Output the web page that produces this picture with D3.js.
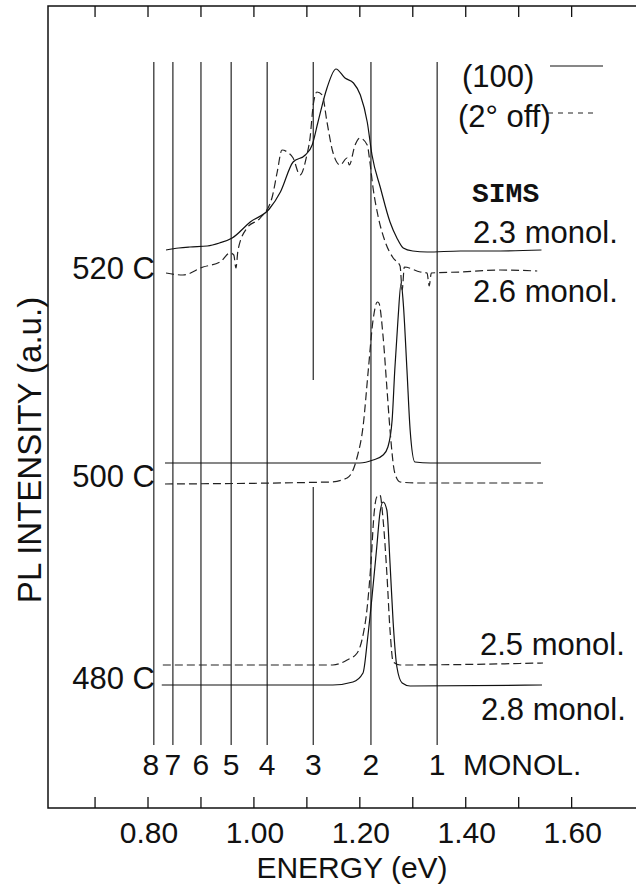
<!DOCTYPE html>
<html><head><meta charset="utf-8">
<script src="https://cdn.jsdelivr.net/npm/d3@7"></script>
<style>
body{margin:0;background:#fff}
svg{display:block}
text{font-family:"Liberation Sans",Arial,Helvetica,sans-serif;fill:#111}
</style>
</head><body>
<svg id="chart" width="636" height="886"></svg>
<script>
// ---------- data ----------
const energyTicks = [0.7,0.8,0.9,1.0,1.1,1.2,1.3,1.4,1.5,1.6];
const tickLabelValues = [0.8,1.0,1.2,1.4,1.6];
const tickLabels = ["0.80","1.00","1.20","1.40","1.60"];

const monolayerLabels = ["8","7","6","5","4","3","2","1"];
const monolayerEnergies = [0.811,0.847,0.900,0.957,1.025,1.112,1.221,1.346];
const monolayerSpan = [63, 746];           // a.u. extent of the marker lines
const monolayerGap3 = [321, 428];          // gap in line "3"

// [energy eV, PL intensity a.u.]
const pl520_100 = [[0.834,558],[0.858,560],[0.879,561],[0.912,562],[0.935,565],[0.959,570],[0.993,586],[1.029,599],[1.050,616],[1.074,646],[1.097,653],[1.110,663],[1.121,686],[1.138,720],[1.155,739],[1.172,730],[1.188,725],[1.201,713],[1.214,686],[1.223,653],[1.239,620],[1.257,586],[1.270,570],[1.282,560],[1.300,557],[1.327,556],[1.390,557],[1.450,557],[1.543,558]];
const pl520_off = [[0.834,535],[0.866,533],[0.904,541],[0.936,546],[0.955,555],[0.962,553],[0.966,540],[0.970,558],[0.987,580],[1.012,590],[1.034,610],[1.044,636],[1.053,658],[1.063,656],[1.074,650],[1.087,633],[1.100,653],[1.106,670],[1.112,703],[1.119,716],[1.129,713],[1.138,686],[1.149,656],[1.163,643],[1.176,650],[1.180,643],[1.191,663],[1.200,670],[1.214,663],[1.219,646],[1.225,620],[1.234,593],[1.248,566],[1.263,550],[1.276,542],[1.280,518],[1.284,541],[1.314,536],[1.327,535],[1.331,522],[1.335,535],[1.389,536],[1.465,538],[1.535,537]];
const pl500_100 = [[0.832,345],[1.163,345],[1.200,345],[1.225,348],[1.244,353],[1.253,361],[1.261,388],[1.266,438],[1.272,488],[1.278,525],[1.282,505],[1.289,438],[1.295,378],[1.304,346],[1.333,345],[1.542,345]];
const pl500_off = [[0.832,324],[1.144,326],[1.176,330],[1.195,351],[1.206,381],[1.216,438],[1.225,488],[1.233,506],[1.236,505],[1.244,471],[1.251,421],[1.257,378],[1.266,335],[1.276,326],[1.308,325],[1.546,325]];
const pl480_100 = [[0.826,123],[1.149,123],[1.187,126],[1.206,135],[1.215,171],[1.223,211],[1.232,261],[1.238,295],[1.244,306],[1.251,298],[1.257,245],[1.263,185],[1.270,141],[1.280,125],[1.295,122],[1.544,123]];
const pl480_off = [[0.828,143],[1.149,143],[1.176,148],[1.195,155],[1.204,168],[1.214,201],[1.221,245],[1.227,295],[1.232,311],[1.238,313],[1.244,288],[1.251,235],[1.257,178],[1.263,146],[1.276,143],[1.546,145]];

const seriesNames = ["(100)","(2° off)"];
const temperatures = ["520 C","500 C","480 C"];
const simsSolid = ["2.3 monol.","","2.8 monol."];
const simsDashed = ["2.6 monol.","","2.5 monol."];

// ---------- layout ----------
const svg = d3.select("#chart");
const frame = {left:48, top:6, bottom:808, right:640};
const x = d3.scaleLinear().domain([0.6,1.7]).range([42.1,624.6]);
const y = d3.scaleLinear().domain([0,800]).range([808,8]);
const FS = 30;

// frame
svg.append("path")
  .attr("d",`M${frame.right},${frame.top}H${frame.left}V${frame.bottom}H${frame.right}`)
  .attr("fill","none").attr("stroke","#111").attr("stroke-width",1.5);

// ticks (top pointing down, bottom pointing up)
const tickLen = 11;
svg.append("g").selectAll("line").data(energyTicks).join("line")
  .attr("x1",d=>x(d)).attr("x2",d=>x(d))
  .attr("y1",frame.top).attr("y2",frame.top+tickLen)
  .attr("stroke","#111").attr("stroke-width",1.3);
svg.append("g").selectAll("line").data(energyTicks).join("line")
  .attr("x1",d=>x(d)).attr("x2",d=>x(d))
  .attr("y1",frame.bottom).attr("y2",frame.bottom-tickLen)
  .attr("stroke","#111").attr("stroke-width",1.3);

// tick labels
svg.append("g").selectAll("text").data(tickLabelValues).join("text")
  .attr("x",d=>x(d)+1).attr("y",843).attr("text-anchor","middle")
  .attr("font-size",FS).text((d,i)=>tickLabels[i]);

svg.append("text").attr("x",352).attr("y",878).attr("text-anchor","middle")
  .attr("font-size",FS).text("ENERGY (eV)");

svg.append("text").attr("transform","translate(41,450) rotate(-90)")
  .attr("text-anchor","middle").attr("font-size",33).text("PL INTENSITY (a.u.)");

// monolayer marker lines
const mg = svg.append("g").attr("stroke","#111").attr("stroke-width",1.1);
monolayerEnergies.forEach((e,i)=>{
  if(monolayerLabels[i]==="3"){
    mg.append("line").attr("x1",x(e)).attr("x2",x(e)).attr("y1",y(monolayerSpan[1])).attr("y2",y(monolayerGap3[1]));
    mg.append("line").attr("x1",x(e)).attr("x2",x(e)).attr("y1",y(monolayerGap3[0])).attr("y2",y(monolayerSpan[0]));
  } else {
    mg.append("line").attr("x1",x(e)).attr("x2",x(e)).attr("y1",y(monolayerSpan[1])).attr("y2",y(monolayerSpan[0]));
  }
});
svg.append("g").selectAll("text").data(monolayerEnergies).join("text")
  .attr("x",(d,i)=>x(d)-(i===0?3:0)).attr("y",775).attr("text-anchor","middle")
  .attr("font-size",FS).text((d,i)=>monolayerLabels[i]);
svg.append("text").attr("x",463).attr("y",775).attr("font-size",FS).text("MONOL.");

// curves
const line = d3.line().x(d=>x(d[0])).y(d=>y(d[1])).curve(d3.curveMonotoneX);
const solidStyle = s=>s.attr("fill","none").attr("stroke","#111").attr("stroke-width",1.2);
const dashStyle = s=>s.attr("fill","none").attr("stroke","#222").attr("stroke-width",1.2).attr("stroke-dasharray","8,4");
[pl520_100,pl500_100,pl480_100].forEach(d=>svg.append("path").datum(d).attr("d",line).call(solidStyle));
[pl520_off,pl500_off,pl480_off].forEach(d=>svg.append("path").datum(d).attr("d",line).call(dashStyle));

// legend
svg.append("text").attr("x",462).attr("y",87).attr("font-size",31).text(seriesNames[0]);
svg.append("line").attr("x1",550).attr("x2",603).attr("y1",66).attr("y2",66).call(solidStyle);
svg.append("text").attr("x",458).attr("y",127).attr("font-size",31).text(seriesNames[1]);
svg.append("line").attr("x1",548).attr("x2",595).attr("y1",113).attr("y2",113).call(dashStyle).attr("stroke-dasharray","5,5");

// SIMS block
svg.append("text").attr("x",472).attr("y",202).attr("font-size",28)
  .attr("font-weight","bold").style("font-family","'Liberation Mono','Courier New',monospace").text("SIMS");
const FM = 31;
svg.append("text").attr("x",473).attr("y",243).attr("font-size",FM).text(simsSolid[0]);
svg.append("text").attr("x",473).attr("y",302).attr("font-size",FM).text(simsDashed[0]);
svg.append("text").attr("x",480).attr("y",655).attr("font-size",FM).text(simsDashed[2]);
svg.append("text").attr("x",481).attr("y",720).attr("font-size",FM).text(simsSolid[2]);

// temperature labels
const tempY = [279,487,689];
temperatures.forEach((t,i)=>svg.append("text").attr("x",155).attr("y",tempY[i])
  .attr("text-anchor","end").attr("font-size",31).text(t));
</script>
</body></html>
